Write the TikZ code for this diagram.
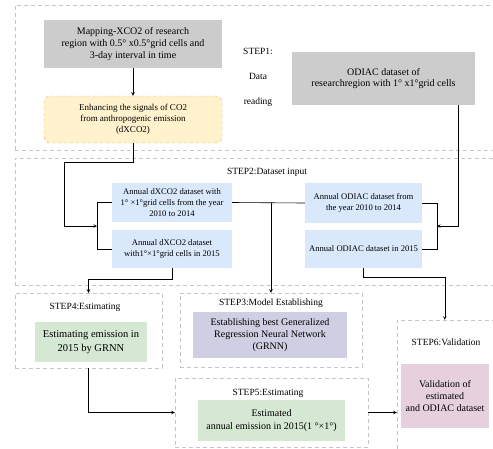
\documentclass[tikz,border=0pt]{standalone}
\usepackage{fontspec}
\setmainfont{Liberation Serif}
\usepackage{tikz}
\usetikzlibrary{shapes.geometric,arrows,calc,positioning}
\definecolor{boxgray}{HTML}{CCCCCC}
\definecolor{boxyellow}{HTML}{FFF2CC}
\definecolor{lineyellow}{HTML}{D6B656}
\definecolor{boxblue}{HTML}{DAE8FC}
\definecolor{boxgreen}{HTML}{D5E8D4}
\definecolor{boxpurple}{HTML}{D0CEE2}
\definecolor{boxpink}{HTML}{E6D0DE}
\definecolor{framegray}{HTML}{C4C4C4}
\begin{document}
\begin{tikzpicture}[x=1pt,y=-1pt]
	\tikzstyle{frame} = [draw = framegray, dash pattern = on 4pt off 3pt, inner sep = 0pt]
	\tikzstyle{graybox} = [fill = boxgray, align = center, inner sep = 0pt, font = \fontsize{10}{11.7}\selectfont]
	\tikzstyle{yellowbox} = [fill = boxyellow, draw = lineyellow, dashed, rounded corners = 6pt, align = center, inner sep = 0pt, font = \fontsize{9}{10.8}\selectfont]
	\tikzstyle{bluebox} = [fill = boxblue, align = center, inner sep = 0pt, font = \fontsize{8.6}{10.8}\selectfont]
	\tikzstyle{stepbox} = [align = center, inner sep = 0pt, font = \fontsize{9.5}{11}\selectfont]
	\tikzstyle{bigbox} = [align = center, inner sep = 0pt, font = \fontsize{10.5}{13.3}\selectfont]
	\tikzstyle{arr} = [-stealth, black, semithick]
\useasboundingbox (0,0) rectangle (493,448);
\clip (0,0) rectangle (493,448);
% step frames
\node[frame, minimum width = 585, minimum height = 145] (f1) at (307.5, 77.5) {};
\node[frame, minimum width = 585, minimum height = 127] (f2) at (307.5, 221.5) {};
\node[frame, minimum width = 147, minimum height = 75] (f4) at (88.5, 330.5) {};
\node[frame, minimum width = 182, minimum height = 74] (f3) at (271, 330) {};
\node[frame, minimum width = 193, minimum height = 69] (f5) at (271.5, 412.5) {};
\node[frame, minimum width = 203, minimum height = 162] (f6) at (498.5, 401) {};
% step 1
\node[graybox, minimum width = 178, minimum height = 48] (map) at (133, 44) {Mapping-XCO2 of research\\region with 0.5° x0.5°grid cells and\\3-day interval in time};
\node[yellowbox, minimum width = 178, minimum height = 47] (enh) at (133, 119.5) {Enhancing the signals of CO2\\from anthropogenic emission\\(dXCO2)};
\node[graybox, minimum width = 183, minimum height = 53] (odiac) at (383.5, 78.5) {ODIAC dataset of\\researchregion with 1° x1°grid cells};
\node[stepbox, font = \fontsize{9.5}{25}\selectfont] (s1) at (258, 77) {STEP1:\\Data\\reading};
% step 2
\node[stepbox] (s2) at (267, 172) {STEP2:Dataset input};
\node[bluebox, minimum width = 120, minimum height = 39] (dA) at (172, 202.5) {Annual dXCO2 dataset with\\1° ×1°grid cells from the year\\2010 to 2014};
\node[bluebox, minimum width = 120, minimum height = 38] (dB) at (172, 249) {Annual dXCO2 dataset\\with1°×1°grid cells in 2015};
\node[bluebox, minimum width = 117, minimum height = 40] (oA) at (363.5, 203) {Annual ODIAC dataset from\\the year 2010 to 2014};
\node[bluebox, minimum width = 117, minimum height = 38] (oB) at (363.5, 249) {Annual ODIAC dataset in 2015};
% steps 3 to 6
\node[stepbox] (s4) at (85, 307) {STEP4:Estimating};
\node[bigbox, fill = boxgreen, minimum width = 112, minimum height = 40] (gA) at (91, 342) {Estimating emission in\\2015 by GRNN};
\node[stepbox] (s3) at (271, 303) {STEP3:Model Establishing};
\node[bigbox, fill = boxpurple, minimum width = 154, minimum height = 46, font = \fontsize{10}{12}\selectfont] (pA) at (270, 335) {Establishing best Generalized\\Regression Neural Network\\(GRNN)};
\node[stepbox] (s5) at (268, 393) {STEP5:Estimating};
\node[bigbox, fill = boxgreen, minimum width = 147, minimum height = 41, font = \fontsize{10}{12.5}\selectfont] (gB) at (271.5, 420.5) {Estimated\\annual emission in 2015(1 °×1°)};
\node[stepbox] (s6) at (446, 342) {STEP6:Validation};
\node[bigbox, fill = boxpink, minimum width = 88, minimum height = 64, font = \fontsize{10}{12}\selectfont] (vA) at (445, 396) {Validation of\\estimated\\and ODIAC dataset};
% connectors
\coordinate (bl) at (97, 226);
\coordinate (br) at (437, 226);
\coordinate (jn) at (dA.east -| f3.north);
	\path[draw, arr] (map) -- (enh);
	\path[draw, arr] (enh.south) -- ++(0, 19) -| ($(bl)+(-33, 0)$) -- (bl);
	\path[draw, semithick] (dA.west) -- ++(-15, 0) |- (dB.west);
	\path[draw, semithick] (oA.east) -- ++(15, 0) |- (oB.east);
	\path[draw, semithick] (dA.east) -- (oA.west);
	\path[draw, arr] (jn) -- (f3.north);
	\path[draw, arr] ($(odiac.south east)+(-17, 0)$) |- (br);
	\path[draw, arr] (oB.south) -- ++(0, 9) -| ($(f6.north west)+(48, 0)$);
	\path[draw, arr] (dB.south) -- ++(0, 11) -| (f4.north);
	\path[draw, arr] (f4.south) |- (f5.west);
	\path[draw, arr] (f5.east) -- (f5.east -| f6.west);
\end{tikzpicture}
\end{document}
